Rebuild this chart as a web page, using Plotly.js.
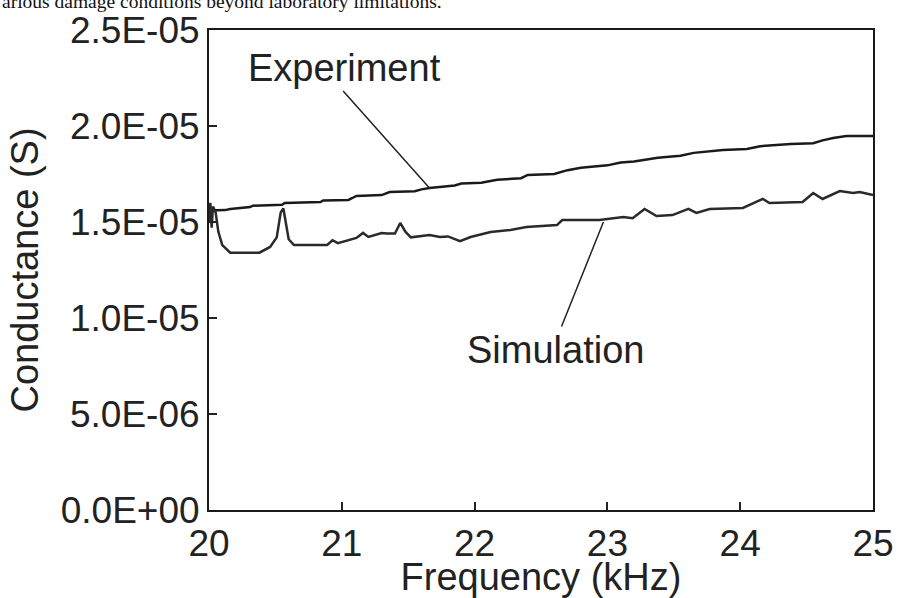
<!DOCTYPE html>
<html>
<head>
<meta charset="utf-8">
<script src="https://cdn.plot.ly/plotly-3.0.1.min.js"></script>
<style>html,body{margin:0;padding:0;background:#fff;}#chart{width:898px;height:598px;}</style>
</head>
<body>
<div id="chart"></div>
<script>
// Frequency (kHz) and conductance (S)
var experimentFreq = [20.00, 20.12, 20.16, 20.31, 20.33, 20.55, 20.57, 20.84, 20.86, 21.05, 21.08, 21.11, 21.30, 21.33, 21.36, 21.55, 21.60, 21.66, 21.85, 21.90, 22.05, 22.17, 22.35, 22.40, 22.60, 22.70, 22.80, 23.00, 23.10, 23.20, 23.38, 23.55, 23.65, 23.87, 24.05, 24.15, 24.38, 24.55, 24.62, 24.70, 24.80, 25.00];
var experimentG = [1.560e-5, 1.562e-5, 1.568e-5, 1.578e-5, 1.585e-5, 1.590e-5, 1.599e-5, 1.604e-5, 1.612e-5, 1.615e-5, 1.625e-5, 1.636e-5, 1.640e-5, 1.650e-5, 1.656e-5, 1.660e-5, 1.670e-5, 1.677e-5, 1.690e-5, 1.700e-5, 1.705e-5, 1.720e-5, 1.728e-5, 1.745e-5, 1.750e-5, 1.770e-5, 1.782e-5, 1.795e-5, 1.810e-5, 1.815e-5, 1.835e-5, 1.845e-5, 1.860e-5, 1.875e-5, 1.880e-5, 1.895e-5, 1.906e-5, 1.910e-5, 1.925e-5, 1.937e-5, 1.948e-5, 1.948e-5];

var simulationFreq = [20.00, 20.01, 20.02, 20.03, 20.05, 20.07, 20.10, 20.16, 20.38, 20.46, 20.51, 20.54, 20.56, 20.58, 20.60, 20.64, 20.89, 20.93, 20.97, 21.11, 21.16, 21.20, 21.30, 21.34, 21.40, 21.44, 21.48, 21.52, 21.66, 21.74, 21.80, 21.89, 21.97, 22.12, 22.27, 22.39, 22.62, 22.66, 22.94, 23.12, 23.19, 23.28, 23.37, 23.49, 23.61, 23.67, 23.77, 24.02, 24.17, 24.22, 24.47, 24.55, 24.62, 24.75, 24.85, 24.90, 25.00];
var simulationG = [1.50e-5, 1.60e-5, 1.47e-5, 1.58e-5, 1.55e-5, 1.45e-5, 1.38e-5, 1.34e-5, 1.34e-5, 1.37e-5, 1.42e-5, 1.55e-5, 1.57e-5, 1.50e-5, 1.41e-5, 1.38e-5, 1.38e-5, 1.405e-5, 1.39e-5, 1.417e-5, 1.443e-5, 1.422e-5, 1.443e-5, 1.44e-5, 1.44e-5, 1.495e-5, 1.448e-5, 1.42e-5, 1.432e-5, 1.422e-5, 1.425e-5, 1.40e-5, 1.422e-5, 1.448e-5, 1.458e-5, 1.474e-5, 1.484e-5, 1.51e-5, 1.51e-5, 1.526e-5, 1.52e-5, 1.568e-5, 1.531e-5, 1.536e-5, 1.568e-5, 1.547e-5, 1.568e-5, 1.573e-5, 1.62e-5, 1.599e-5, 1.604e-5, 1.651e-5, 1.62e-5, 1.661e-5, 1.651e-5, 1.656e-5, 1.641e-5];

var xTickVals = [20, 21, 22, 23, 24, 25];
var xTickText = ["20", "21", "22", "23", "24", "25"];
var yTickVals = [0, 5e-6, 1e-5, 1.5e-5, 2e-5, 2.5e-5];
var yTickText = ["0.0E+00", "5.0E-06", "1.0E-05", "1.5E-05", "2.0E-05", "2.5E-05"];

var font = "Liberation Sans, Arial, sans-serif";

var traces = [
  {x: experimentFreq, y: experimentG, type: "scatter", mode: "lines", name: "Experiment",
   line: {color: "#1a1a1a", width: 2.5, shape: "linear"}},
  {x: simulationFreq, y: simulationG, type: "scatter", mode: "lines", name: "Simulation",
   line: {color: "#2a2a2a", width: 2.5, shape: "linear"}}
];

var layout = {
  width: 898, height: 598,
  margin: {l: 209, r: 25, t: 30, b: 88, pad: 0},
  paper_bgcolor: "#ffffff", plot_bgcolor: "#ffffff",
  showlegend: false,
  font: {family: font, color: "#222", size: 37},
  xaxis: {
    range: [20, 25], tickvals: xTickVals, ticktext: xTickText,
    ticks: "inside", ticklen: 8, tickwidth: 2, tickcolor: "#222",
    showline: true, linewidth: 2, linecolor: "#1a1a1a", mirror: true,
    showgrid: false, zeroline: false,
    tickfont: {family: font, size: 37, color: "#222"},
    title: {text: "Frequency (kHz)", font: {family: font, size: 38, color: "#222"}, standoff: 2},
    automargin: false
  },
  yaxis: {
    range: [0, 2.5e-5], tickvals: yTickVals, ticktext: yTickText,
    ticks: "inside", ticklen: 8, tickwidth: 2, tickcolor: "#222",
    showline: true, linewidth: 2, linecolor: "#1a1a1a", mirror: true,
    showgrid: false, zeroline: false,
    tickfont: {family: font, size: 37, color: "#222"},
    title: {text: "Conductance (S)", font: {family: font, size: 38, color: "#222"}, standoff: 10},
    automargin: false
  },
  annotations: [
    {x: 21.66, y: 1.677e-5, xref: "x", yref: "y", ax: 21.0, ay: 2.19e-5, axref: "x", ayref: "y",
     text: "", showarrow: true, arrowhead: 0, arrowwidth: 1.5, arrowcolor: "#222"},
    {x: 21.02, y: 2.30e-5, xref: "x", yref: "y", text: "Experiment", showarrow: false,
     font: {family: font, size: 38, color: "#222"}, xanchor: "center", yanchor: "middle"},
    {x: 22.97, y: 1.50e-5, xref: "x", yref: "y", ax: 22.65, ay: 0.948e-5, axref: "x", ayref: "y",
     text: "", showarrow: true, arrowhead: 0, arrowwidth: 1.5, arrowcolor: "#222"},
    {x: 22.61, y: 0.833e-5, xref: "x", yref: "y", text: "Simulation", showarrow: false,
     font: {family: font, size: 38, color: "#222"}, xanchor: "center", yanchor: "middle"},
    {x: -0.315, y: 1.033, xref: "paper", yref: "paper", text: "arious damage conditions beyond laboratory limitations.",
     showarrow: false, xanchor: "left", yanchor: "bottom",
     font: {family: "Liberation Serif, Times New Roman, serif", size: 19.5, color: "#111"}}
  ]
};

Plotly.newPlot("chart", traces, layout, {staticPlot: true, displayModeBar: false});
</script>
</body>
</html>
